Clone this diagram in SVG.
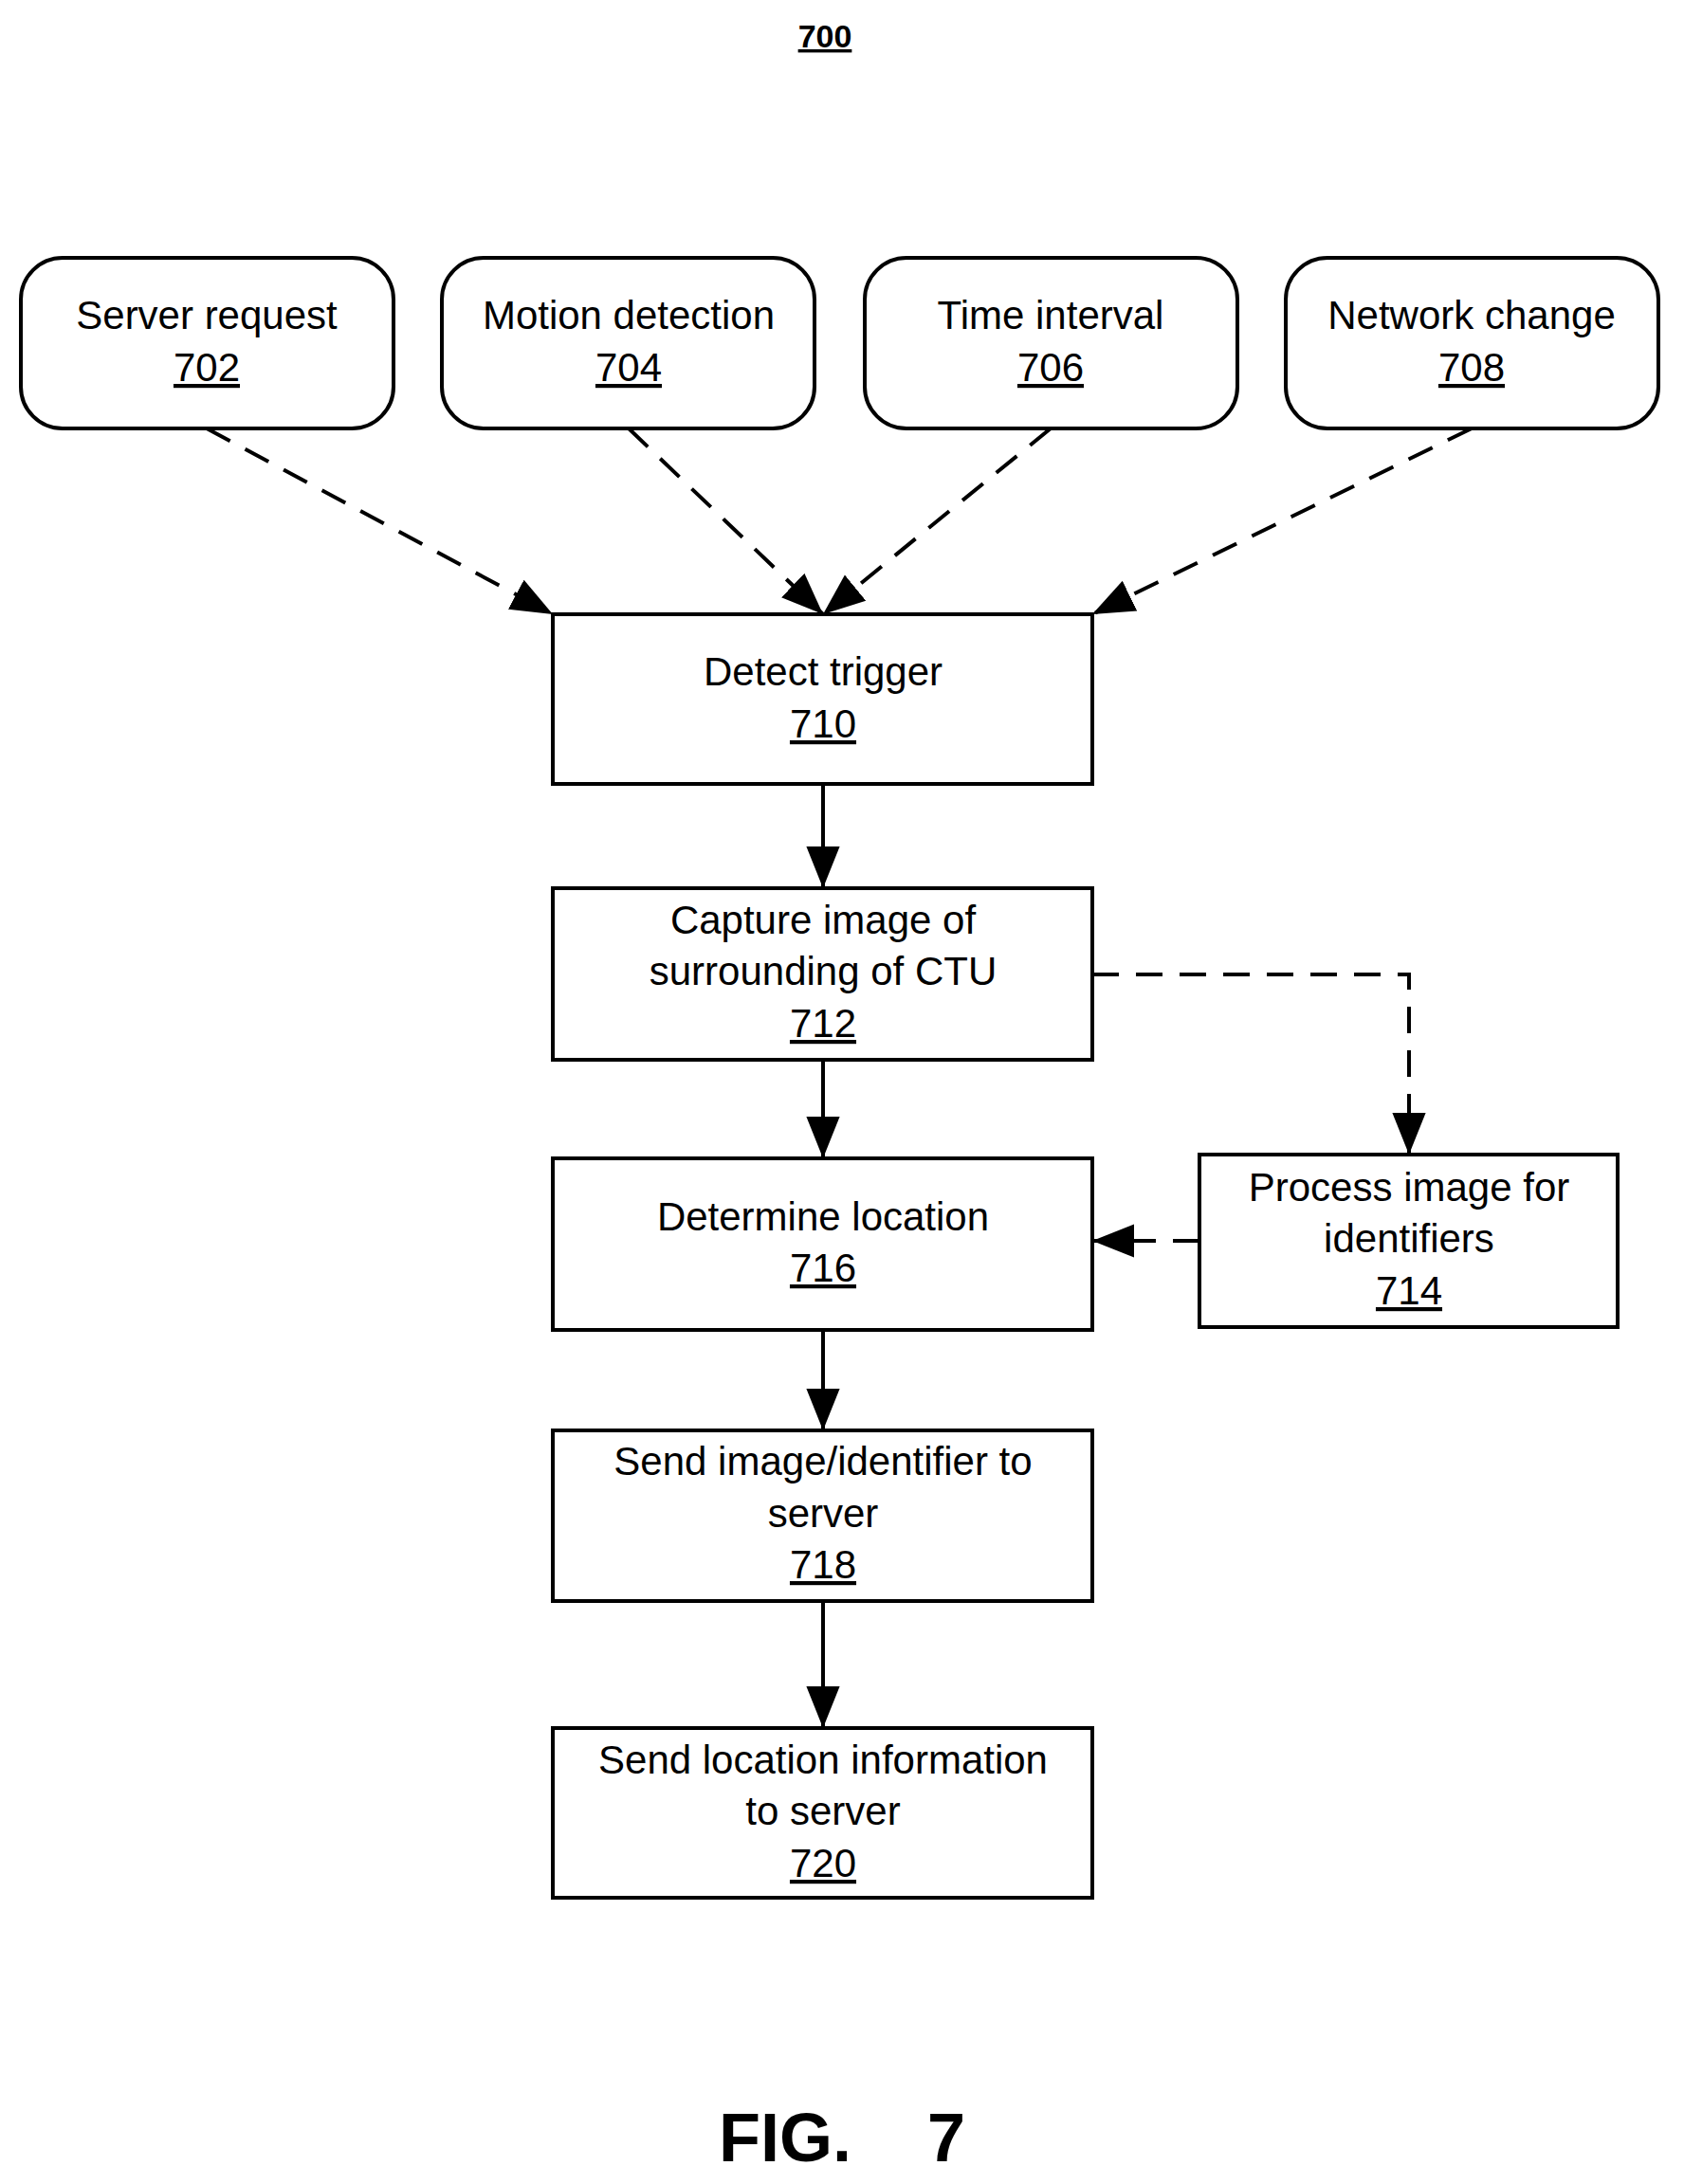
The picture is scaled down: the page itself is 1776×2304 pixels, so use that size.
<svg xmlns="http://www.w3.org/2000/svg" width="1776" height="2304" viewBox="0 0 1776 2304">
<style>
.b{fill:#fff;stroke:#000;stroke-width:4}
.t{font-family:"Liberation Sans",Arial,sans-serif;font-size:42px;text-anchor:middle;fill:#000}
.u{text-decoration:underline}
.c{stroke:#000;stroke-width:4;fill:none}
.d{stroke-dasharray:28,18}
</style>
<defs><marker id="a" viewBox="0 0 10 10" refX="10" refY="5" markerWidth="12" markerHeight="12" markerUnits="userSpaceOnUse" orient="auto"><path d="M0,0L10,5L0,10z" fill="#000"/></marker>
<marker id="m" viewBox="0 0 10 10" refX="10" refY="5" markerWidth="11" markerHeight="11" orient="auto"><path d="M0,1L10,5L0,9z" fill="#000"/></marker></defs>
<text class="t u" x="870" y="50" style="font-weight:bold;font-size:34px">700</text>
<g id="n702"><rect class="b" x="22" y="272" width="393" height="180" rx="44"/><text class="t" x="218" y="347">Server request</text><text class="t u" x="218" y="402">702</text></g>
<g id="n704"><rect class="b" x="466" y="272" width="393" height="180" rx="44"/><text class="t" x="663" y="347">Motion detection</text><text class="t u" x="663" y="402">704</text></g>
<g id="n706"><rect class="b" x="912" y="272" width="393" height="180" rx="44"/><text class="t" x="1108" y="347">Time interval</text><text class="t u" x="1108" y="402">706</text></g>
<g id="n708"><rect class="b" x="1356" y="272" width="393" height="180" rx="44"/><text class="t" x="1552" y="347">Network change</text><text class="t u" x="1552" y="402">708</text></g>
<g id="n710"><rect class="b" x="583" y="648" width="569" height="179"/><text class="t" x="868" y="723">Detect trigger</text><text class="t u" x="868" y="778">710</text></g>
<g id="n712"><rect class="b" x="583" y="937" width="569" height="181"/><text class="t" x="868" y="985">Capture image of</text><text class="t" x="868" y="1039">surrounding of CTU</text><text class="t u" x="868" y="1094">712</text></g>
<g id="n716"><rect class="b" x="583" y="1222" width="569" height="181"/><text class="t" x="868" y="1298">Determine location</text><text class="t u" x="868" y="1352">716</text></g>
<g id="n714"><rect class="b" x="1265" y="1218" width="441" height="182"/><text class="t" x="1486" y="1267">Process image for</text><text class="t" x="1486" y="1321">identifiers</text><text class="t u" x="1486" y="1376">714</text></g>
<g id="n718"><rect class="b" x="583" y="1509" width="569" height="180"/><text class="t" x="868" y="1556">Send image/identifier to</text><text class="t" x="868" y="1611">server</text><text class="t u" x="868" y="1665">718</text></g>
<g id="n720"><rect class="b" x="583" y="1823" width="569" height="179"/><text class="t" x="868" y="1871">Send location information</text><text class="t" x="868" y="1925">to server</text><text class="t u" x="868" y="1980">720</text></g>
<g id="connectors">
<path class="c d" d="M218,452L583,648" marker-end="url(#m)"/>
<path class="c d" d="M663,452L868,648" marker-end="url(#m)"/>
<path class="c d" d="M1108,452L868,648" marker-end="url(#m)"/>
<path class="c d" d="M1552,452L1152,648" marker-end="url(#m)"/>
<path class="c" d="M868,827V937" marker-end="url(#m)"/>
<path class="c" d="M868,1118V1222" marker-end="url(#m)"/>
<path class="c" d="M868,1403V1509" marker-end="url(#m)"/>
<path class="c" d="M868,1689V1823" marker-end="url(#m)"/>
<path class="c d" d="M1152,1028H1486V1218" marker-end="url(#m)"/>
<path class="c d" d="M1265,1309H1152" marker-end="url(#m)"/>
</g>
<text class="t" x="888" y="2280" style="font-weight:bold;font-size:72px" xml:space="preserve">FIG.    7</text>
</svg>
